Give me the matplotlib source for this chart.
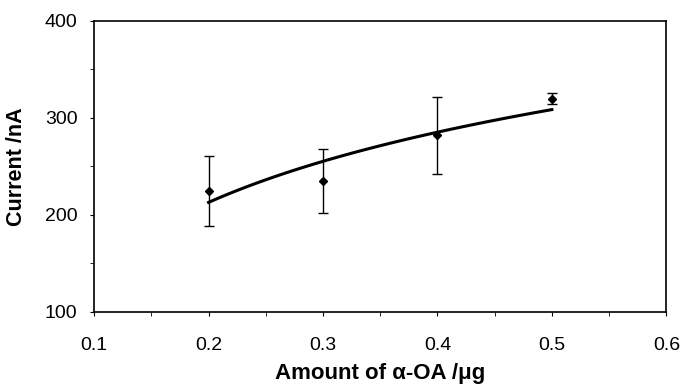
import matplotlib.pyplot as plt
import numpy as np
from matplotlib.ticker import MultipleLocator

plt.rcParams['font.family'] = ['Liberation Sans', 'DejaVu Sans']

# 数据
amount = np.array([0.2, 0.3, 0.4, 0.5])
current = np.array([225, 235, 282, 320])
err = np.array([36, 33, 40, 6])

# 对数趋势线
b, a = np.polyfit(np.log(amount), current, 1)
xs = np.linspace(amount.min(), amount.max(), 100)
ys = a + b * np.log(xs)

fig = plt.figure(figsize=(6.82, 3.87), dpi=100)
ax = fig.add_axes([0.138, 0.194, 0.839, 0.752])

ax.errorbar(amount, current, yerr=err, fmt='D', color='black', markersize=4.5,
            ecolor='black', elinewidth=1, capsize=3.5, capthick=1)
ax.plot(xs, ys, color='black', linewidth=2.2)

ax.set_xlim(0.1, 0.6)
ax.set_ylim(100, 400)
ax.xaxis.set_major_locator(MultipleLocator(0.1))
ax.xaxis.set_minor_locator(MultipleLocator(0.05))
ax.yaxis.set_major_locator(MultipleLocator(100))
ax.yaxis.set_minor_locator(MultipleLocator(50))
ax.tick_params(which='major', length=3, width=0.8, labelsize=14)
ax.tick_params(axis='x', pad=15)
ax.tick_params(axis='y', pad=9)
ax.tick_params(which='minor', length=3, width=0.6)
for s in ax.spines.values():
    s.set_linewidth(1.2)

ax.set_xlabel('Amount of α-OA /μg', fontsize=16, fontweight='bold')
ax.set_ylabel('Current /nA', fontsize=15.5, fontweight='bold')
ax.xaxis.set_label_coords(0.5, -0.176)
ax.yaxis.set_label_coords(-0.118, 0.5)

fig.savefig('out.png', dpi=100)
